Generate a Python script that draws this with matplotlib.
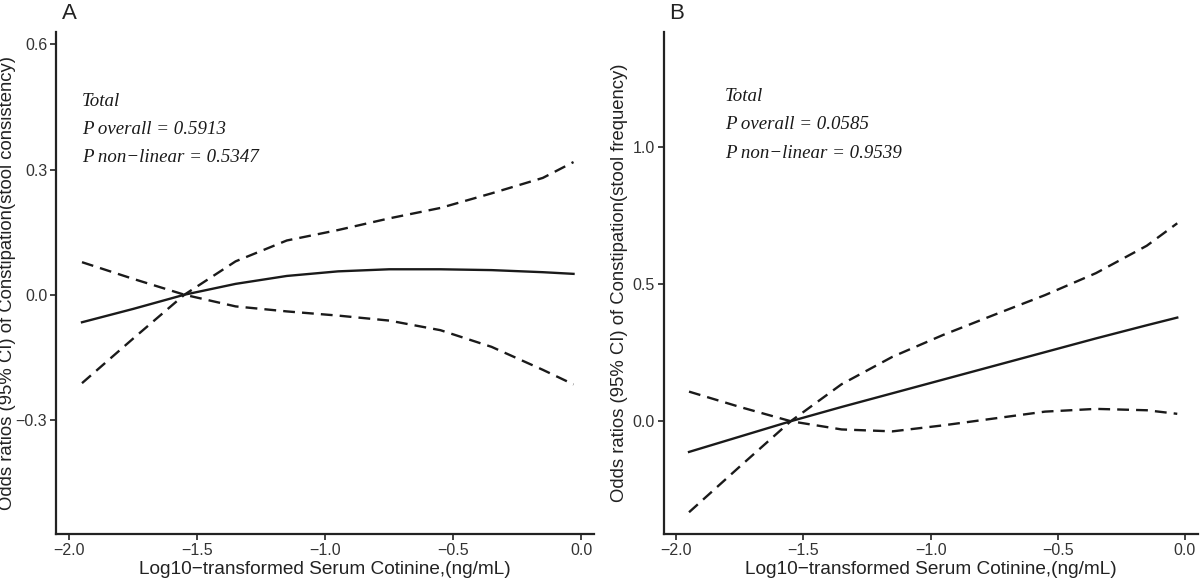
import matplotlib
matplotlib.use('Agg')
import matplotlib.pyplot as plt

# values (log10 cotinine vs log OR with 95% CI)
x = [-1.95, -1.75, -1.55, -1.35, -1.15, -0.95, -0.75, -0.55, -0.35, -0.15, -0.03]

a_fit = [-0.066, -0.034, 0.0, 0.026, 0.045, 0.056, 0.061, 0.061, 0.059, 0.054, 0.050]
a_upper = [-0.212, -0.105, 0.0, 0.08, 0.13, 0.155, 0.183, 0.208, 0.243, 0.28, 0.318]
a_lower = [0.078, 0.038, 0.0, -0.028, -0.04, -0.05, -0.062, -0.085, -0.125, -0.18, -0.215]

b_fit = [-0.112, -0.056, 0.0, 0.052, 0.102, 0.152, 0.202, 0.252, 0.302, 0.350, 0.378]
b_upper = [-0.332, -0.165, 0.0, 0.135, 0.235, 0.315, 0.388, 0.46, 0.54, 0.64, 0.722]
b_lower = [0.108, 0.052, 0.0, -0.03, -0.037, -0.015, 0.01, 0.035, 0.045, 0.04, 0.027]

x_ticks = [-2.0, -1.5, -1.0, -0.5, 0.0]
a_yticks = [-0.3, 0.0, 0.3, 0.6]
b_yticks = [0.0, 0.5, 1.0]

a_text = ['Total', 'P overall = 0.5913', 'P non\u2212linear = 0.5347']
b_text = ['Total', 'P overall = 0.0585', 'P non\u2212linear = 0.9539']


def fmt(v):
    return ('%.1f' % v).replace('-', '\u2212')


plt.rcParams['font.family'] = ['Liberation Sans', 'DejaVu Sans']

fig = plt.figure(figsize=(12, 5.8), dpi=100)
axA = fig.add_axes([0.047, 0.079, 0.448, 0.866])
axB = fig.add_axes([0.553, 0.079, 0.445, 0.866])

panels = [
    (axA, a_fit, a_upper, a_lower, a_yticks, (-0.574, 0.63), a_text, (-1.95, [0.462, 0.395, 0.328]),
     'Odds ratios (95% CI) of Constipation(stool consistency)', 'A', 8),
    (axB, b_fit, b_upper, b_lower, b_yticks, (-0.412, 1.42), b_text, (-1.81, [1.183, 1.083, 0.978]),
     'Odds ratios (95% CI) of Constipation(stool frequency)', 'B', 619),
]

for ax, fit, up, lo, yt, ylim, txt, (tx, ty), ylab, tag, lab_px in panels:
    ax.plot(x, fit, color='#1a1a1a', lw=1.7)
    ax.plot(x, up, color='#1a1a1a', lw=1.7, ls=(0, (5, 3)))
    ax.plot(x, lo, color='#1a1a1a', lw=1.7, ls=(0, (5, 3)))
    ax.set_xlim(-2.05, 0.05)
    ax.set_ylim(*ylim)
    ax.set_xticks(x_ticks)
    ax.set_xticklabels([fmt(v) for v in x_ticks])
    ax.set_yticks(yt)
    ax.set_yticklabels([fmt(v) for v in yt])
    for s in ['top', 'right']:
        ax.spines[s].set_visible(False)
    for s in ['left', 'bottom']:
        ax.spines[s].set_linewidth(1.6)
        ax.spines[s].set_color('#222222')
    ax.tick_params(direction='out', length=4, width=1.2, labelsize=11.5, colors='#222222',
                   labelcolor='#333333', pad=2.5)
    ax.set_xlabel('Log10\u2212transformed Serum Cotinine,(ng/mL)', fontsize=13.7, color='#222222', labelpad=2)
    ax.set_ylabel(ylab, fontsize=13.3, color='#222222', va='center')
    # place y label centre at a fixed pixel column
    bbox = ax.get_position()
    ax.yaxis.set_label_coords((lab_px / 1200 - bbox.x0) / bbox.width, 0.5)
    for t, yy in zip(txt, ty):
        ax.text(tx, yy, t, family=['Liberation Serif', 'DejaVu Serif'], style='italic',
                fontsize=13.6, color='#1a1a1a', va='center', ha='left')
    ax.text(0.01, 1.058, tag, transform=ax.transAxes, fontsize=16, color='#222222',
            va='top', ha='left')

fig.savefig('out.png', dpi=100)
